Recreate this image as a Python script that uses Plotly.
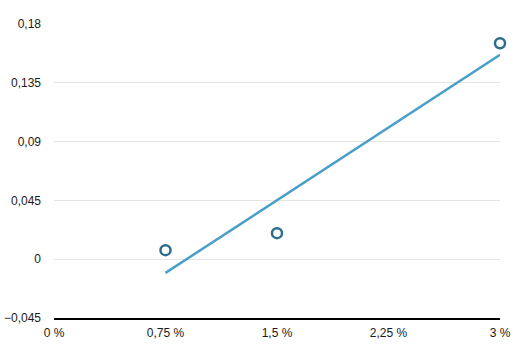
import plotly.graph_objects as go

x_vals = [0.75, 1.5, 3.0]
y_vals = [0.0069, 0.0199, 0.1653]
trend_x = [0.75, 3.0]
trend_y = [-0.0105, 0.1565]

y_ticks = [-0.045, 0, 0.045, 0.09, 0.135, 0.18]
y_labels = ["\u22120,045", "0", "0,045", "0,09", "0,135", "0,18"]
x_ticks = [0, 0.75, 1.5, 2.25, 3.0]
x_labels = ["0 %", "0,75 %", "1,5 %", "2,25 %", "3 %"]

fig = go.Figure()
fig.add_trace(go.Scatter(x=trend_x, y=trend_y, mode="lines",
                         line=dict(color="#4a9fc9", width=2.5),
                         hoverinfo="skip", showlegend=False))
fig.add_trace(go.Scatter(x=x_vals, y=y_vals, mode="markers",
                         marker=dict(symbol="circle-open", size=10,
                                     color="#2e6d8c", line=dict(width=2.5, color="#2e6d8c")),
                         cliponaxis=False, showlegend=False))

fig.update_layout(
    width=524, height=348,
    margin=dict(l=54, r=24, t=24, b=30, autoexpand=False),
    plot_bgcolor="white", paper_bgcolor="white",
    font=dict(family="Liberation Sans, Arial, sans-serif", size=12, color="#1a1a1a"),
    xaxis=dict(range=[0, 3], tickmode="array", tickvals=x_ticks, ticktext=x_labels,
               showgrid=False, zeroline=False, showline=True, linecolor="black",
               linewidth=1.5, ticks="", ticklen=0, automargin=False,
               ticklabelstandoff=3),
    yaxis=dict(range=[-0.045, 0.18], tickmode="array", tickvals=y_ticks, ticktext=y_labels,
               showgrid=True, gridcolor="#e4e4e4", gridwidth=1, zeroline=False,
               showline=False, ticks="", ticklabelstandoff=12, automargin=False),
)

fig.write_html("out.html")
